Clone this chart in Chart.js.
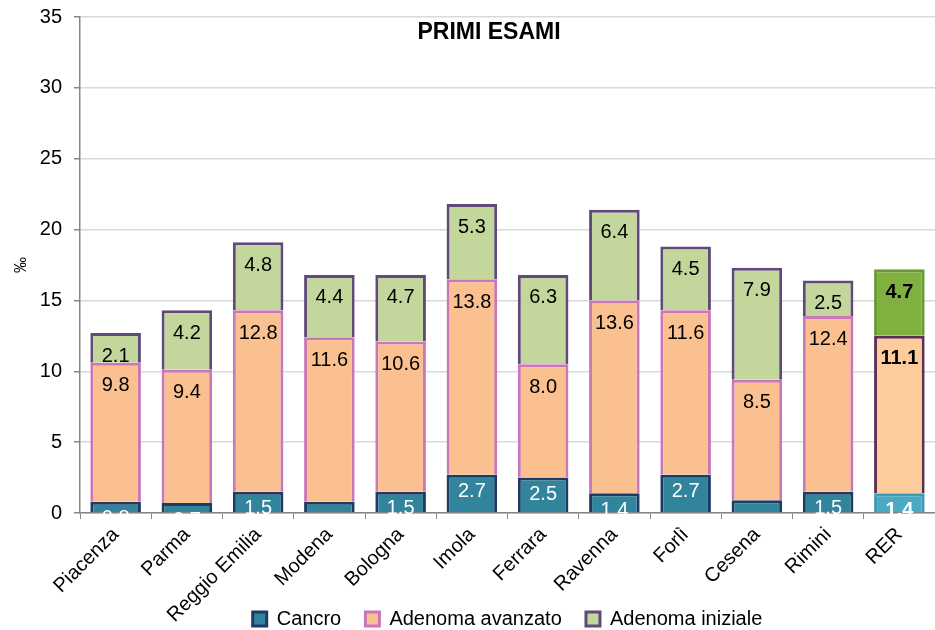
<!DOCTYPE html>
<html>
<head>
<meta charset="utf-8">
<script src="https://cdn.jsdelivr.net/npm/chart.js@4/dist/chart.umd.min.js"></script>
<style>
  html, body { margin: 0; padding: 0; background: #fff; }
  #wrap { width: 935px; height: 630px; }
</style>
</head>
<body>
<div id="wrap"><canvas id="myChart" width="935" height="630"></canvas></div>
<script>
// data
const categories = ['Piacenza', 'Parma', 'Reggio Emilia', 'Modena', 'Bologna', 'Imola',
  'Ferrara', 'Ravenna', 'Forlì', 'Cesena', 'Rimini', 'RER'];
const cancro = [0.8, 0.7, 1.5, 0.8, 1.5, 2.7, 2.5, 1.4, 2.7, 0.9, 1.5, 1.4];
const adenomaAvanzato = [9.8, 9.4, 12.8, 11.6, 10.6, 13.8, 8.0, 13.6, 11.6, 8.5, 12.4, 11.1];
const adenomaIniziale = [2.1, 4.2, 4.8, 4.4, 4.7, 5.3, 6.3, 6.4, 4.5, 7.9, 2.5, 4.7];
const yTicks = [0, 5, 10, 15, 20, 25, 30, 35];
// cancer labels not shown in the original (Modena, Cesena)
const hiddenCancerLabels = [3, 9];

const FONT = '"Liberation Sans", Arial, sans-serif';
const last = categories.length - 1;

// the RER bar is drawn in its own colours
function perBar(normal, rer) {
  return categories.map((c, i) => i === last ? rer : normal);
}

const barLabels = {
  id: 'barLabels',
  afterDatasetsDraw(chart) {
    const { ctx, chartArea } = chart;
    ctx.save();
    ctx.beginPath();
    ctx.rect(chartArea.left, chartArea.top, chartArea.right - chartArea.left, chartArea.bottom - chartArea.top + 1);
    ctx.clip();
    chart.data.datasets.forEach((ds, di) => {
      const meta = chart.getDatasetMeta(di);
      meta.data.forEach((bar, i) => {
        if (di === 0 && hiddenCancerLabels.includes(i)) return;
        ctx.font = (i === last ? 'bold ' : '') + '20px ' + FONT;
        ctx.fillStyle = di === 0 ? '#ffffff' : '#000000';
        ctx.textAlign = 'center';
        ctx.textBaseline = 'middle';
        const off = di === 0 ? 17 : 23;
        ctx.fillText(ds.data[i].toFixed(1), bar.x, bar.y + off);
      });
    });
    ctx.restore();
  }
};

const chartTitle = {
  id: 'chartTitle',
  afterDraw(chart) {
    const ctx = chart.ctx;
    ctx.save();
    ctx.font = 'bold 23px ' + FONT;
    ctx.fillStyle = '#000';
    ctx.textAlign = 'center';
    ctx.textBaseline = 'middle';
    ctx.fillText('PRIMI ESAMI', 489, 33);
    ctx.restore();
  }
};

// the legend shares its row with the lower ends of the rotated labels
const legendShift = {
  id: 'legendShift',
  beforeDraw(chart) {
    const lg = chart.legend;
    const h = lg.bottom - lg.top;
    lg.top = 607;
    lg.bottom = 607 + h;
  }
};

const ctx = document.getElementById('myChart');
new Chart(ctx, {
  type: 'bar',
  data: {
    labels: categories,
    datasets: [
      {
        label: 'Cancro',
        data: cancro,
        backgroundColor: perBar('#31849b', '#4aaac4'),
        borderColor: perBar('#1f3b63', '#3f9ab3'),
        borderWidth: 3
      },
      {
        label: 'Adenoma avanzato',
        data: adenomaAvanzato,
        backgroundColor: perBar('#fac090', '#fdcc9c'),
        borderColor: perBar('#c977b9', '#5e2f52'),
        borderWidth: 3
      },
      {
        label: 'Adenoma iniziale',
        data: adenomaIniziale,
        backgroundColor: perBar('#c3d69b', '#80b140'),
        borderColor: perBar('#604a7b', '#6a9a30'),
        borderWidth: 3
      }
    ]
  },
  options: {
    responsive: false,
    animation: false,
    layout: { padding: { top: 17, left: 0, right: 0, bottom: -32 } },
    datasets: {
      bar: { categoryPercentage: 1.0, barPercentage: 0.71 }
    },
    plugins: {
      tooltip: { enabled: false },
      title: { display: false },
      legend: {
        position: 'bottom',
        fullSize: false,
        labels: {
          font: { family: FONT, size: 20 },
          color: '#000',
          boxWidth: 14,
          boxHeight: 14,
          padding: 2,
          generateLabels: chart => {
            const items = Chart.defaults.plugins.legend.labels.generateLabels(chart);
            items.forEach((it, i) => { if (i < items.length - 1) it.text += '    '; });
            return items;
          }
        }
      }
    },
    scales: {
      x: {
        stacked: true,
        afterFit: s => { s.height = 117; },
        grid: {
          offset: true,
          drawOnChartArea: false,
          tickLength: 6,
          tickColor: '#868686'
        },
        border: { color: '#868686', width: 1.5 },
        ticks: {
          font: { family: FONT, size: 20 },
          color: '#000',
          maxRotation: 45,
          minRotation: 45,
          padding: 4
        }
      },
      y: {
        stacked: true,
        min: 0,
        max: 35,
        afterFit: s => { s.width = 80; s.paddingTop = 4; },
        afterBuildTicks: s => { s.ticks = yTicks.map(v => ({ value: v })); },
        grid: {
          color: '#d9d9d9',
          lineWidth: 1.5,
          tickLength: 6,
          tickColor: '#868686'
        },
        border: { color: '#868686', width: 1.5 },
        ticks: {
          font: { family: FONT, size: 20 },
          color: '#000',
          padding: 12
        },
        title: {
          display: true,
          text: '‰',
          font: { family: FONT, size: 16 },
          color: '#000',
          padding: { top: 12, bottom: 0 }
        }
      }
    }
  },
  plugins: [barLabels, chartTitle, legendShift]
});
</script>
</body>
</html>
